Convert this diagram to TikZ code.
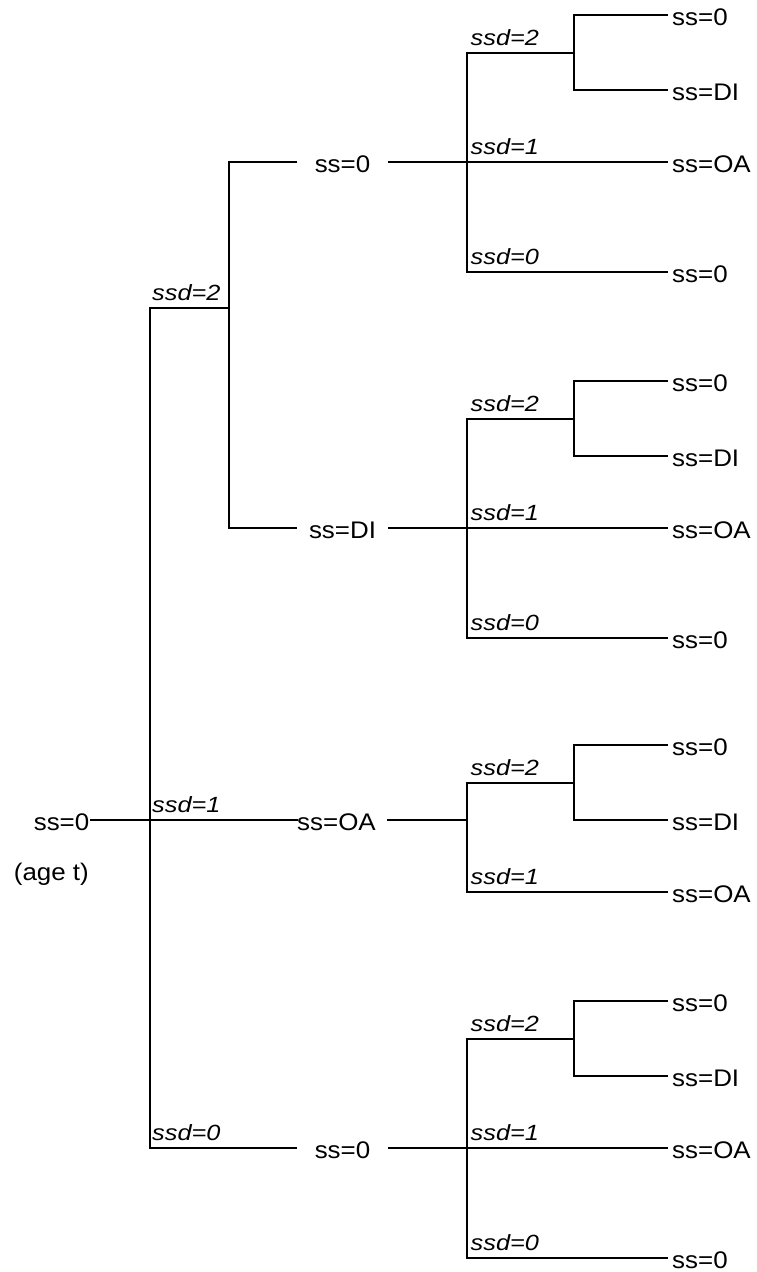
\documentclass[tikz,border=0pt]{standalone}
\usepackage{fontspec}
\setmainfont{Liberation Sans}[FakeStretch=1.08]
\newfontfamily\lblfont{Liberation Sans}[FakeStretch=1.15]
\tikzset{
  conn/.style={line width=2.2pt, line cap=rect},
  txt/.style={inner sep=0pt, text height=21pt, text depth=0pt, font=\fontsize{24}{28}\selectfont},
  leaf/.style={txt, anchor=west, inner xsep=5pt},
  mid/.style={txt, minimum width=93pt},
  lbl/.style={anchor=base west, inner sep=0pt, font=\lblfont\itshape\fontsize{22}{26}\selectfont},
}
% #1 prefix, #2 offset, #3 1 = with ssd=0 branch
\newcommand\mkblock[3]{%
  \coordinate (#1t) at (467,{53+#2});
  \coordinate (#1m) at (467,{162+#2});
  \coordinate (#1s) at (574,{53+#2});
  \coordinate (#1sa) at (574,{15+#2});
  \coordinate (#1sd) at (574,{90+#2});
  \node[leaf] (#1a) at (667,{15+#2}) {ss=0};
  \node[leaf] (#1d) at (667,{90+#2}) {ss=DI};
  \node[leaf] (#1o) at (667,{162+#2}) {ss=OA};
  \draw[conn] (#1t) -- (#1s);
  \draw[conn] (#1sa) -- (#1sd);
  \draw[conn] (#1sa) -- (#1a.west);
  \draw[conn] (#1sd) -- (#1d.west);
  \draw[conn] (#1m) -- (#1o.west);
  \node[lbl] (#1l2) at (470.5,{45.5+#2}) {ssd=2};
  \node[lbl] (#1l1) at (470.5,{154.5+#2}) {ssd=1};
  \ifnum#3=1
    \coordinate (#1b) at (467,{272+#2});
    \node[leaf] (#1z) at (667,{272+#2}) {ss=0};
    \draw[conn] (#1t) -- (#1b);
    \draw[conn] (#1b) -- (#1z.west);
    \node[lbl] (#1l0) at (470.5,{264.5+#2}) {ssd=0};
  \else
    \draw[conn] (#1t) -- (#1m);
  \fi
}
\begin{document}
\begin{tikzpicture}[x=1pt,y=-1pt]
\useasboundingbox (0,0) rectangle (756,1272);
% root
\node[txt, anchor=east] (root) at (89.5,820) {ss=0};
\node[anchor=base east, inner sep=0pt, font=\fontsize{24}{28}\selectfont] (age) at (89,880.5) {(age t)};
% main vertical
\coordinate (mt) at (150,308);
\coordinate (mb) at (150,1148);
\coordinate (st) at (229,162);
\coordinate (sb) at (229,528);
\coordinate (sm) at (229,308);
\draw[conn] (mt) -- (mb);
\draw[conn] (mt) -- (sm);
\draw[conn] (st) -- (sb);
% second-level nodes
\node[mid] (n1) at (342.5,162) {ss=0};
\node[mid] (n2) at (342.5,528) {ss=DI};
\node[txt, anchor=west] (n3) at (297,820) {ss=OA};
\node[mid] (n4) at (342.5,1148) {ss=0};
\draw[conn] (st) -- (n1.west);
\draw[conn] (sb) -- (n2.west);
\draw[conn] ([xshift=1.5pt]root.east) -- (n3.west);
\draw[conn] (mb) -- (n4.west);
% main labels
\node[lbl] (L2) at (152,300.5) {ssd=2};
\node[lbl] (L1) at (152,812.5) {ssd=1};
\node[lbl] (L0) at (152,1140.5) {ssd=0};
% blocks
\mkblock{a}{0}{1}
\mkblock{b}{366}{1}
\mkblock{c}{730}{0}
\mkblock{d}{986}{1}
\coordinate (cin) at (467,820);
\draw[conn] (n1.east) -- (am);
\draw[conn] (n2.east) -- (bm);
\draw[conn] ([xshift=12pt]n3.east) -- (cin);
\draw[conn] (n4.east) -- (dm);
\end{tikzpicture}
\end{document}
